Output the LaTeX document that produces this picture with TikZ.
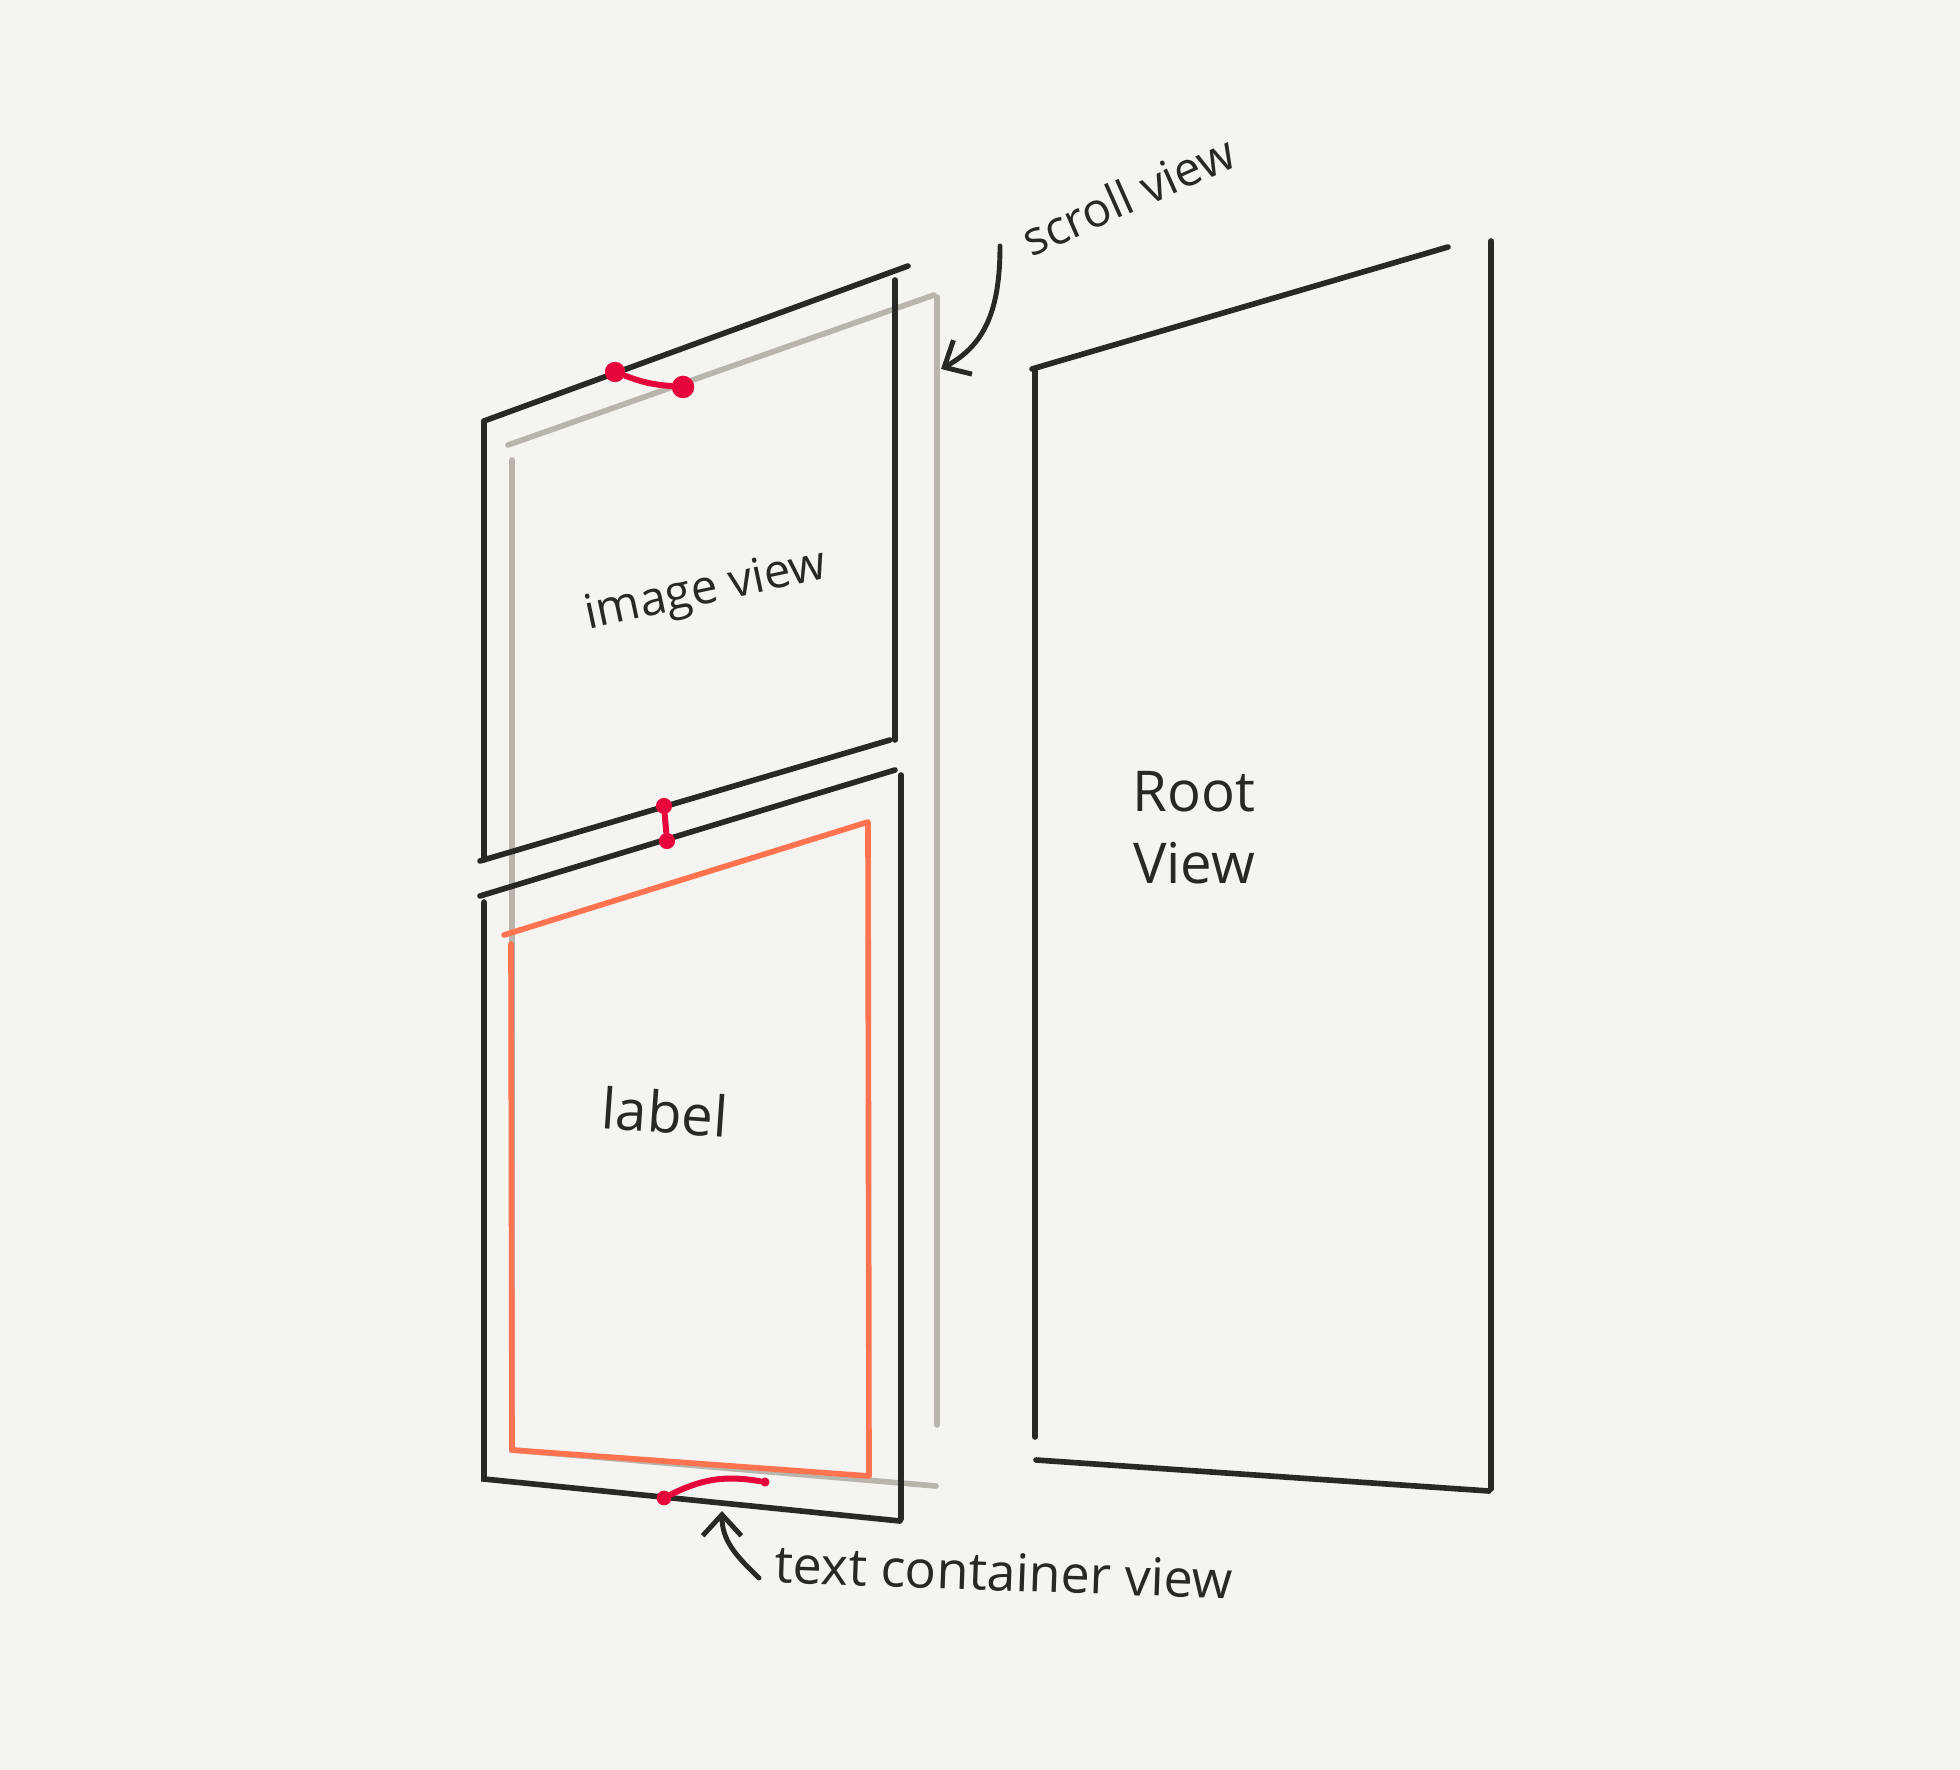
\documentclass[tikz,border=0pt]{standalone}
\usepackage{fontspec}
\setmainfont{Open Sans}
\usetikzlibrary{arrows.meta, positioning}
\definecolor{paper}{HTML}{F5F4F0}
\definecolor{ink}{HTML}{2A2824}
\definecolor{ghost}{HTML}{B9B5AD}
\definecolor{coral}{HTML}{FF7350}
\definecolor{pinred}{HTML}{E6063C}
\tikzset{
  frame/.style={ink, line width=1.6pt, line cap=round},
  scrollframe/.style={ghost, line width=1.6pt, line cap=round},
  labelframe/.style={coral, line width=1.6pt, line cap=round, line join=round},
  pinline/.style={draw=pinred, line width=1.7pt, line cap=round},
  pindot/.style={circle, fill=pinred, inner sep=0pt, minimum size=#1},
  hand/.style={ink, font=\fontsize{13.5}{16}\selectfont},
  pointer/.style={ink, line width=1.4pt, line cap=round, -{Straight Barb[length=6pt, width=11pt]}},
}

\begin{document}
\begin{tikzpicture}[x=0.01cm, y=-0.01cm]
        % Paper and page size
        \fill[paper] (0,0) rectangle (1960,1770);
        \useasboundingbox (0,0) rectangle (1960,1770);
        % Scroll view, drawn first so it sits behind
        \draw[scrollframe] (508,445) -- (934,295);
        \draw[scrollframe] (937,297) -- (937,1425);
        \draw[scrollframe] (512,460) -- (512,1450) -- (936,1486);
        % Image view
        \draw[frame] (484,421) -- (908,266);
        \draw[frame] (484,421) -- (484,860);
        \draw[frame] (895,280) -- (895,740);
        \draw[frame] (480,861) -- (890,740);
        % Label
        \draw[frame] (480,896) -- (895,770);
        \draw[frame] (484,902) -- (484,1479) -- (900,1521);
        \draw[frame] (901,775) -- (901,1519);
        % Text container inside the label
        \draw[labelframe] (504,935) -- (868,822) -- (869,1476) -- (512,1450) -- (511,944);
        % Root view
        \draw[frame] (1032,369) -- (1448,247);
        \draw[frame] (1035,371) -- (1035,1437);
        \draw[frame] (1491,241) -- (1491,1489);
        \draw[frame] (1036,1460) -- (1489,1491);
        % Constraint pins
        \node[pindot=5.8pt] (pinA) at (615,372) {};
        \node[pindot=6.4pt] (pinB) at (683,387) {};
        \node[pindot=4.6pt] (pinC) at (664,806) {};
        \node[pindot=4.6pt] (pinD) at (667,841) {};
        \node[pindot=4.2pt] (pinE) at (664,1498) {};
        \node[pindot=2.6pt] (pinF) at (765,1482) {};
        \draw[pinline] (pinA) to[bend right=8] (pinB);
        \draw[pinline] (pinC) -- (pinD);
        \draw[pinline] (pinE) to[bend left=18] (pinF);
        % Labels
        \node[hand, rotate=24] (scrolllbl) at (1128,195) {scroll view};
        \node[hand, rotate=12] (imagelbl) at (706,592) {image view};
        \node[hand, font=\fontsize{16}{18}\selectfont, rotate=-4] (labellbl) at (665,1112) {label};
        \node[hand, font=\fontsize{16}{20.5}\selectfont, align=center] (rootlbl) at (1194,828) {Root\\View};
        \node[hand, font=\fontsize{14.8}{17}\selectfont, rotate=-2] (textlbl) at (1004,1572) {text container view};
        % Pointers
        \coordinate (scrolltail) at (1000,246);
        \coordinate (scrollhead) at (941,369);
        \draw[pointer] (scrolltail) .. controls (1000,310) and (985,345) .. (scrollhead);
        \coordinate (texttail) at (759,1578);
        \coordinate (texthead) at (722,1511);
        \draw[pointer] (texttail) .. controls (735,1555) and (722,1540) .. (texthead);
    \end{tikzpicture}
\end{document}
